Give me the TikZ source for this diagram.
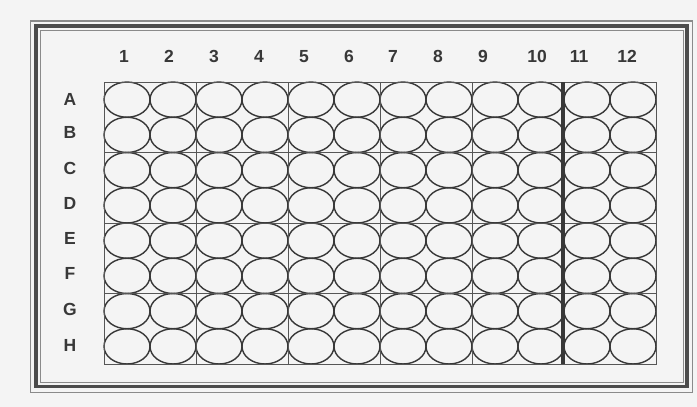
\documentclass[tikz,border=0pt]{standalone}
\usepackage{fontspec}
\setmainfont{Liberation Sans}
\definecolor{bg}{HTML}{F4F4F4}
\definecolor{ink}{HTML}{383838}
\definecolor{frameouter}{HTML}{8A8A8A}
\begin{document}
\begin{tikzpicture}[x=1pt,y=-1pt,
  lbl/.style={font=\fontsize{17.5}{17.5}\selectfont\bfseries, text=ink, inner sep=0pt, anchor=base},
  well/.style={draw=ink, line width=1.4pt},
  gridln/.style={draw=ink!85, line width=0.8pt}]
\useasboundingbox (0,0) rectangle (697,407);
\fill[bg] (0,0) rectangle (697,407);
% frame
\draw[frameouter, line width=1.5pt] (30.5,21) rectangle (692.5,392.5);
\draw[ink!90, line width=3.4pt] (36,26) rectangle (687,386.5);
\draw[frameouter, line width=0.9pt] (40.5,30) rectangle (683,382);
% wells
\foreach \c in {0,...,11}{
  \foreach \r in {0,...,7}{
    \draw[well] ({104+46*(\c+0.5)},{82+35.25*(\r+0.5)}) ellipse [x radius=23, y radius=17.6];
  }
}
% grid
\draw[gridln] (104,82) rectangle (656,364);
\foreach \c in {2,4,6,8}{
  \draw[gridln] ({104+46*\c},82) -- ({104+46*\c},364);
}
\foreach \r in {2,4,6}{
  \draw[gridln] (104,{82+35.25*\r}) -- (656,{82+35.25*\r});
}
\draw[ink, line width=3.5pt] (563,82) -- (563,364);
% column labels
\foreach \lab/\x in {1/124,2/169,3/214,4/259,5/304,6/349,7/393,8/438,9/483,10/537,11/579,12/627}{
  \node[lbl] (col\lab) at (\x,62.5) {\lab};
}
% row labels
\foreach \lab/\y in {A/99,B/132,C/168,D/203,E/238,F/273,G/309,H/345}{
  \node[lbl] (row\lab) at (70,\y+6.3) {\lab};
}
\end{tikzpicture}
\end{document}
